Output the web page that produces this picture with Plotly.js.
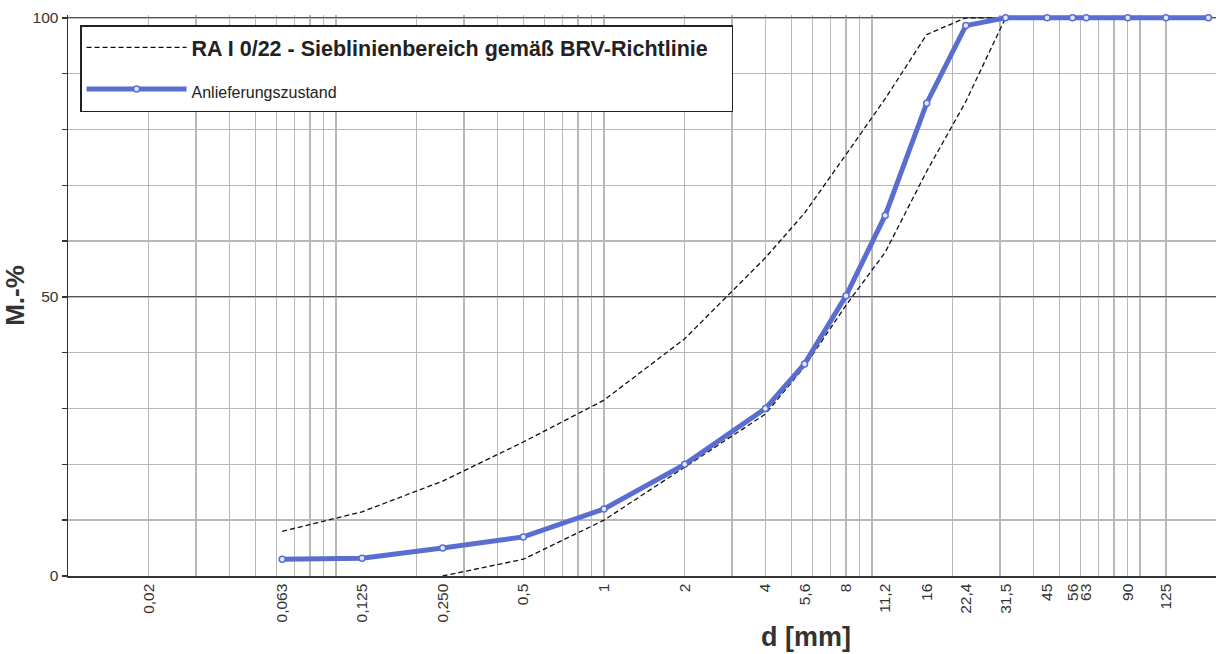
<!DOCTYPE html>
<html>
<head>
<meta charset="utf-8">
<script src="https://cdn.plot.ly/plotly-3.0.1.min.js"></script>
<style>html,body{margin:0;padding:0;background:#fff;}#chart{width:1216px;height:654px;}</style>
</head>
<body>
<div id="chart"></div>
<script>
// Sieve sizes (mm) and passing (M.-%)
const sampleSizes = [0.063, 0.125, 0.25, 0.5, 1, 2, 4, 5.6, 8, 11.2, 16, 22.4, 31.5, 45, 56, 63, 90, 125, 180];
const samplePassing = [3, 3.2, 5, 7, 12, 20, 30, 38, 50.2, 64.6, 84.7, 98.6, 100, 100, 100, 100, 100, 100, 100];

const upperSizes = [0.063, 0.125, 0.25, 0.5, 1, 2, 4, 5.6, 8, 11.2, 16, 22.4, 31.5];
const upperPassing = [8, 11.5, 17, 24, 31.5, 42.5, 57, 65, 75.5, 85.5, 97, 100, 100];

const lowerSizes = [0.25, 0.5, 1, 2, 4, 5.6, 8, 11.2, 16, 22.4, 31.5];
const lowerPassing = [0, 3, 10, 19.5, 29, 37.5, 48.5, 58, 72.5, 85, 100];

const xTickVals = [0.02, 0.063, 0.125, 0.25, 0.5, 1, 2, 4, 5.6, 8, 11.2, 16, 22.4, 31.5, 45, 56, 63, 90, 125];
const xTickText = ["0,02", "0,063", "0,125", "0,250", "0,5", "1", "2", "4", "5,6", "8", "11,2", "16", "22,4", "31,5", "45", "56", "63", "90", "125"];
const xGridVals = [0.01,0.02,0.03,0.04,0.05,0.06,0.07,0.08,0.09,
                   0.1,0.2,0.3,0.4,0.5,0.6,0.7,0.8,0.9,
                   1,2,3,4,5,6,7,8,9,
                   10,20,30,40,50,60,70,80,90,
                   100,125];
const yTickVals = [0, 50, 100];

const bandName = '<span style="font-size:21.5px"><b>RA I 0/22 - Sieblinienbereich gemäß BRV-Richtlinie</b></span>&nbsp;&nbsp;&nbsp;';
const sampleName = '<span style="font-size:16px">Anlieferungszustand</span>';
const xTitle = '<b>d [mm]</b>';
const yTitle = '<b>M.-%</b>';

const blue = '#5a6ed2';
const font = '"Liberation Sans", Arial, sans-serif';

const traces = [
  {
    x: upperSizes, y: upperPassing, type: 'scatter', mode: 'lines',
    name: bandName, legendgroup: 'a',
    line: {color: '#111', width: 1.3, dash: '5px,3px'}
  },
  {
    x: lowerSizes, y: lowerPassing, type: 'scatter', mode: 'lines',
    name: 'lower', showlegend: false, legendgroup: 'a',
    line: {color: '#111', width: 1.3, dash: '5px,3px'}
  },
  {
    x: sampleSizes, y: samplePassing, type: 'scatter', mode: 'lines+markers',
    name: sampleName, legendgroup: 'b', cliponaxis: false,
    line: {color: blue, width: 5},
    marker: {size: 6, color: '#e4e8ff', line: {color: blue, width: 1.5}}
  }
];

const layout = {
  width: 1216, height: 654,
  margin: {l: 68, r: 0, t: 15, b: 78},
  paper_bgcolor: '#ffffff', plot_bgcolor: '#ffffff',
  font: {family: font, color: '#333', size: 15},
  showlegend: true,
  legend: {
    x: 0.0105, y: 0.982, xanchor: 'left', yanchor: 'top',
    bgcolor: '#ffffff', bordercolor: '#222', borderwidth: 1.5,
    font: {family: font, size: 22, color: '#222'},
    itemwidth: 100, tracegroupgap: 10
  },
  xaxis: {
    type: 'log', range: [-2, 2.2836],
    tickmode: 'array', tickvals: xTickVals, ticktext: xTickText,
    tickangle: -90, ticks: '', showgrid: false, zeroline: false,
    tickfont: {family: font, size: 15.5, color: '#333'},
    showline: true, linecolor: '#333', linewidth: 1.5,
    minor: {tickmode: 'array', tickvals: xGridVals, showgrid: true, gridcolor: '#b8b8b8', gridwidth: 1.5, ticks: ''}
  },
  yaxis: {
    range: [0, 100.5],
    tickmode: 'array', tickvals: yTickVals,
    ticks: 'outside', ticklen: 5, tickcolor: '#333', tickwidth: 1.5,
    showgrid: true, gridcolor: '#555', gridwidth: 1.2, zeroline: false,
    tickfont: {family: font, size: 15.5, color: '#333'},
    showline: true, linecolor: '#333', linewidth: 1.5,
    minor: {dtick: 10, showgrid: true, gridcolor: '#b8b8b8', gridwidth: 1.5, ticks: 'outside', ticklen: 5, tickcolor: '#333', tickwidth: 1.5},
    title: {text: yTitle, font: {family: font, size: 26, color: '#333'}, standoff: 6}
  },
  annotations: [
    {text: xTitle, xref: 'paper', yref: 'paper', x: 0.643, y: -0.1087,
     xanchor: 'center', yanchor: 'middle', showarrow: false,
     font: {family: font, size: 27, color: '#333'}}
  ]
};

Plotly.newPlot('chart', traces, layout, {displayModeBar: false, staticPlot: true});
</script>
</body>
</html>
